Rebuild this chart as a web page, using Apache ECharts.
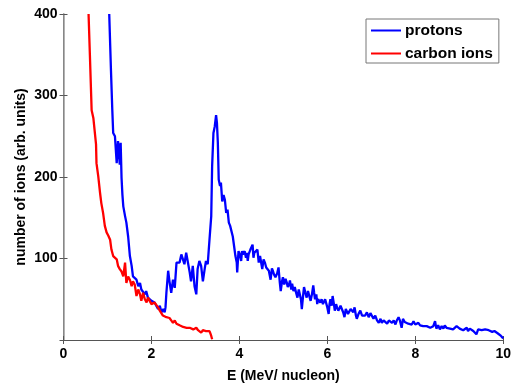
<!DOCTYPE html>
<html>
<head>
<meta charset="utf-8">
<script src="https://cdn.jsdelivr.net/npm/echarts@6/dist/echarts.min.js"></script>
<style>
html,body{margin:0;padding:0;background:#fff;}
#chart{width:514px;height:389px;}
</style>
</head>
<body>
<div id="chart"></div>
<script>
const xTicks = [0, 2, 4, 6, 8, 10];
const yTicks = [100, 200, 300, 400];
const seriesNames = ['protons', 'carbon ions'];

const protonE = [1.04,1.08,1.11,1.13,1.17,1.21,1.24,1.26,1.28,1.30,1.32,1.34,1.36,1.40,1.43,1.47,1.51,1.55,1.58,1.62,1.66,1.70,1.74,1.77,1.81,1.85,1.88,1.92,1.96,2.00,2.04,2.07,2.11,2.15,2.19,2.23,2.27,2.30,2.32,2.34,2.38,2.41,2.45,2.49,2.53,2.57,2.60,2.64,2.68,2.72,2.75,2.79,2.83,2.87,2.90,2.94,2.98,3.02,3.05,3.09,3.13,3.17,3.21,3.24,3.28,3.32,3.36,3.38,3.41,3.44,3.47,3.49,3.51,3.53,3.56,3.58,3.61,3.64,3.67,3.70,3.73,3.76,3.79,3.82,3.85,3.88,3.91,3.94,3.95,3.98,4.01,4.04,4.06,4.08,4.12,4.15,4.17,4.19,4.21,4.25,4.30,4.32,4.34,4.38,4.41,4.44,4.47,4.49,4.52,4.55,4.58,4.61,4.63,4.67,4.71,4.74,4.76,4.79,4.82,4.86,4.89,4.92,4.94,4.97,4.99,5.02,5.05,5.08,5.10,5.13,5.15,5.18,5.20,5.23,5.26,5.29,5.32,5.35,5.37,5.40,5.42,5.45,5.47,5.50,5.53,5.56,5.59,5.62,5.65,5.68,5.70,5.72,5.75,5.77,5.79,5.81,5.84,5.87,5.90,5.92,5.95,5.97,6.00,6.03,6.05,6.07,6.10,6.12,6.15,6.17,6.20,6.22,6.25,6.27,6.30,6.33,6.36,6.39,6.42,6.44,6.47,6.50,6.53,6.56,6.59,6.62,6.65,6.67,6.71,6.75,6.79,6.83,6.86,6.90,6.94,6.98,7.01,7.05,7.09,7.13,7.17,7.21,7.24,7.28,7.32,7.36,7.40,7.44,7.47,7.51,7.55,7.58,7.62,7.65,7.69,7.72,7.76,7.80,7.84,7.88,7.92,7.96,8.00,8.04,8.07,8.11,8.15,8.18,8.22,8.26,8.30,8.34,8.37,8.41,8.45,8.48,8.52,8.56,8.60,8.64,8.67,8.71,8.75,8.79,8.83,8.86,8.90,8.94,8.97,9.01,9.05,9.09,9.13,9.17,9.20,9.24,9.28,9.32,9.36,9.39,9.43,9.47,9.51,9.55,9.59,9.63,9.67,9.71,9.75,9.80,9.84,9.88,9.92,9.95,9.97,10.0];
const protonN = [400,330,282,254,250,217,244,230,215,242,199,178,164,152,144,127,103,91,78,80,74,66,70,62,60,56,60,52,54,48,50,46,44,38,42,34,38,34,40,58,85,72,58,74,64,95,93,95,105,103,93,107,109,83,72,91,66,56,87,97,91,72,87,97,93,123,152,213,254,262,276,266,242,197,189,193,170,178,172,156,160,144,140,142,127,115,103,95,83,109,105,97,109,105,109,101,107,97,105,111,117,101,107,109,111,95,103,103,87,99,95,89,91,85,74,88,85,80,77,82,89,70,60,72,77,68,75,70,65,68,73,62,69,60,65,58,52,62,60,50,38,55,65,58,52,60,58,48,56,67,58,50,56,44,50,52,46,50,44,42,50,48,40,32,44,50,42,54,44,36,44,40,36,36,42,38,34,28,38,36,32,30,38,40,34,40,30,26,32,36,30,32,30,34,28,33,33,26,30,24,21,26,21,24,23,20,24,22,21,24,19,24,28,24,15,26,22,23,20,22,19,23,19,20,21,18,19,17,15,17,18,15,16,17,23,14,18,13,17,14,18,15,16,14,16,13,15,17,19,14,16,12,13,15,11,14,13,11,12,7,13,15,12,11,13,12,12,11,10,11,9,8,7,5,3,2];

const carbonE = [0.57,0.60,0.64,0.66,0.68,0.72,0.74,0.75,0.79,0.83,0.86,0.90,0.94,0.98,1.02,1.06,1.09,1.13,1.17,1.21,1.24,1.28,1.32,1.36,1.40,1.43,1.47,1.51,1.55,1.58,1.62,1.66,1.70,1.74,1.77,1.81,1.85,1.89,1.92,1.96,2.00,2.04,2.07,2.11,2.15,2.19,2.23,2.26,2.30,2.34,2.38,2.41,2.45,2.49,2.53,2.57,2.60,2.64,2.68,2.72,2.76,2.80,2.83,2.87,2.91,2.95,2.98,3.02,3.06,3.10,3.13,3.17,3.21,3.24,3.28,3.32,3.34,3.36,3.38];
const carbonN = [400,350,282,280,272,272,240,217,201,181,168,156,140,132,128,123,111,103,104,99,91,87,84,78,95,70,78,74,66,72,68,54,62,56,48,58,50,46,52,48,44,42,46,44,40,36,35,30,32,28,30,27,24,21,24,20,22,18,20,16,18,15,17,15,16,13,15,15,12,13,9,12,10,11,12,11,8,5,1];

const pair = (xs, ys) => xs.map((x, i) => [x, ys[i]]);
const FONT = '"Liberation Sans", Arial, Helvetica, sans-serif';
const axisColor = '#555';

const chart = echarts.init(document.getElementById('chart'), null, {renderer: 'canvas'});
chart.setOption({
  animation: false,
  backgroundColor: '#fff',
  grid: {left: 63.5, right: 9, top: 14, bottom: 49, containLabel: false},
  legend: {
    data: seriesNames,
    orient: 'vertical',
    left: 366, top: 19,
    padding: [3, 6, 1, 5],
    itemGap: 6,
    itemWidth: 30, itemHeight: 2,
    icon: 'rect',
    backgroundColor: '#fff',
    borderColor: '#777', borderWidth: 1,
    textStyle: {fontFamily: FONT, fontWeight: 'bold', fontSize: 15.5, color: '#000', lineHeight: 17, padding: [0,0,0,-1]}
  },
  xAxis: [{
    type: 'value', min: 0, max: 10, interval: 2,
    name: 'E (MeV/ nucleon)', nameLocation: 'middle', nameGap: 29, nameMoveOverlap: false,
    nameTextStyle: {fontFamily: FONT, fontWeight: 'bold', fontSize: 14, color: '#000'},
    axisLine: {show: true, lineStyle: {color: axisColor, width: 1}},
    axisTick: {show: true, inside: true, length: 4, lineStyle: {color: axisColor}},
    axisLabel: {fontFamily: FONT, fontWeight: 'bold', fontSize: 14, color: '#000', margin: 7,
      formatter: v => xTicks.includes(v) ? String(v) : ''},
    splitLine: {show: false}
  }, {
    type: 'value', min: 0, max: 10, interval: 2, position: 'top',
    axisLine: {show: true, lineStyle: {color: axisColor, width: 1}},
    axisTick: {show: true, inside: true, length: 4, lineStyle: {color: axisColor}},
    axisLabel: {show: false}, splitLine: {show: false}
  }],
  yAxis: [{
    type: 'value', min: 0, max: 400, interval: 100,
    name: 'number of ions (arb. units)', nameLocation: 'middle', nameGap: 35, nameMoveOverlap: false,
    nameTextStyle: {fontFamily: FONT, fontWeight: 'bold', fontSize: 14, color: '#000'},
    axisLine: {show: true, lineStyle: {color: axisColor, width: 1}},
    axisTick: {show: true, inside: true, length: 4, lineStyle: {color: axisColor}},
    axisLabel: {fontFamily: FONT, fontWeight: 'bold', fontSize: 14, color: '#000', margin: 6,
      formatter: v => yTicks.includes(v) ? String(v) : ''},
    splitLine: {show: false}
  }, {
    type: 'value', min: 0, max: 400, interval: 100, position: 'right',
    axisLine: {show: true, lineStyle: {color: '#999', width: 1.5}},
    axisTick: {show: true, inside: true, length: 4, lineStyle: {color: axisColor}},
    axisLabel: {show: false}, splitLine: {show: false}
  }],
  series: [{
    name: seriesNames[0], type: 'line', data: pair(protonE, protonN),
    showSymbol: false, symbol: 'none', clip: true,
    lineStyle: {color: '#0000ff', width: 2.3}, itemStyle: {color: '#0000ff'}
  }, {
    name: seriesNames[1], type: 'line', data: pair(carbonE, carbonN),
    showSymbol: false, symbol: 'none', clip: true,
    lineStyle: {color: '#ff0000', width: 2.3}, itemStyle: {color: '#ff0000'}
  }]
});
</script>
</body>
</html>
